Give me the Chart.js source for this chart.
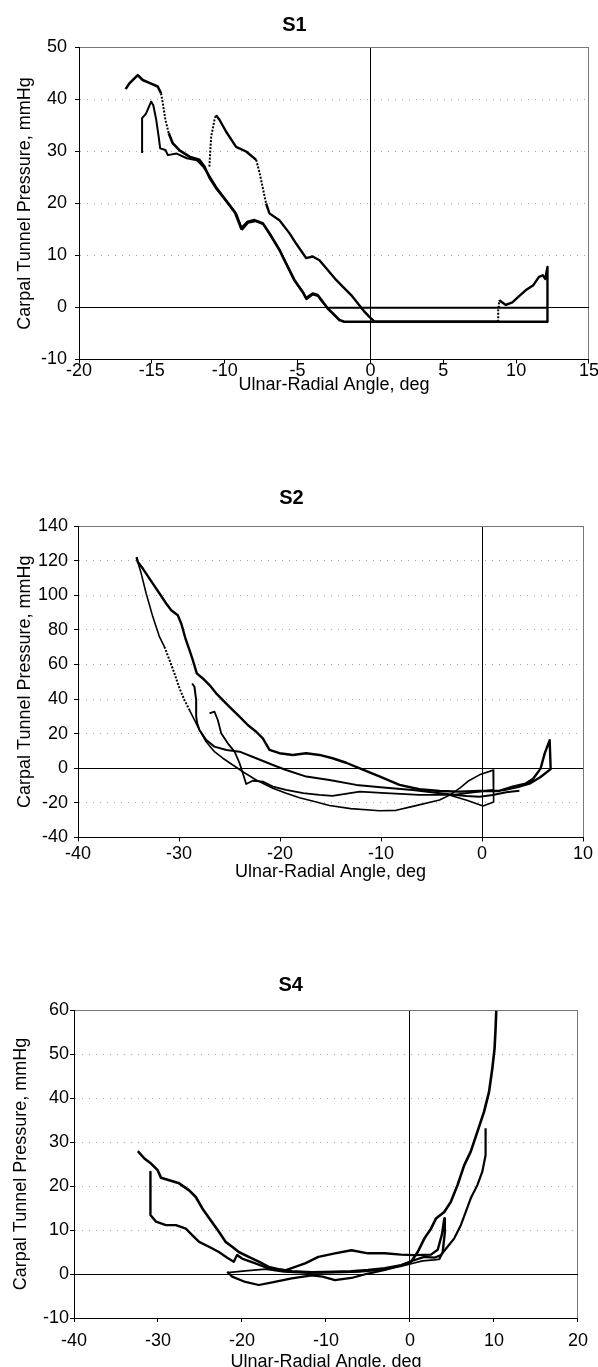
<!DOCTYPE html>
<html>
<head>
<meta charset="utf-8">
<script src="https://cdn.jsdelivr.net/npm/chart.js@4.4.1/dist/chart.umd.min.js"></script>
<style>
  html, body { margin: 0; padding: 0; background: #fff; overflow: hidden; }
  .panel { position: absolute; left: 0; width: 598px; }
</style>
</head>
<body>
<div class="panel" style="top:0;height:400px"><canvas id="chartS1"></canvas></div>
<div class="panel" style="top:440px;height:460px"><canvas id="chartS2"></canvas></div>
<div class="panel" style="top:900px;height:480px"><canvas id="chartS4"></canvas></div>
<script>
// S1 traces (angle deg, pressure mmHg)
var s1aX = [-16.8, -16.54, -15.97, -15.63, -15.17, -14.6, -14.37, -14.25, -14.07, -13.84, -13.57, -13.1, -12.42, -11.74, -11.39, -11.05, -10.6, -9.9, -9.3, -8.87, -8.42, -7.96, -7.39, -6.93, -6.25, -5.79, -5.22, -4.65, -4.42, -3.96, -3.62, -3.27, -2.93, -2.59, -2.13, -1.8, 12.15];
var s1aY = [42.0, 43.1, 44.7, 43.75, 43.2, 42.5, 41.2, 39.3, 36.1, 33.5, 31.6, 30.2, 29.0, 28.4, 27.1, 25.0, 23.0, 20.5, 18.3, 15.2, 16.5, 16.8, 16.2, 14.3, 11.1, 8.5, 5.3, 3.0, 1.8, 2.7, 2.4, 1.1, -0.2, -1.1, -2.4, -2.75, -2.75];
var s1bX = [-15.67, -15.67, -15.4, -15.05, -14.9, -14.7, -14.53, -14.43, -14.07, -13.9, -13.3, -12.6, -11.9, -11.45, -11.1, -10.5, -9.8, -9.2, -8.8, -8.4, -7.9, -7.35, -6.9, -6.2, -5.75, -5.2, -4.6, -4.38, -3.95, -3.6, -3.25, -2.95, 12.15];
var s1bY = [29.7, 36.4, 37.3, 39.6, 38.9, 36.1, 32.8, 30.6, 30.3, 29.3, 29.6, 28.7, 28.3, 27.0, 25.5, 22.8, 20.2, 18.0, 15.0, 16.3, 16.6, 16.0, 14.0, 10.9, 8.3, 5.1, 2.8, 1.6, 2.5, 2.2, 0.9, -0.05, -0.05];
var s1cX = [-11.05, -11.0, -10.93, -10.7, -10.6, -10.36, -9.9, -9.22, -8.53, -7.84, -7.6, -7.5, -7.16, -6.93, -6.25, -5.56, -5.1, -4.41, -3.96, -3.5, -2.93, -2.35, -1.9, -1.32, -0.87, -0.41, -0.07, 0.3, 8.77, 8.77, 8.85, 9.03, 9.3, 9.74, 10.13, 10.65, 11.18, 11.57, 11.83, 12.0, 12.15, 12.15];
var s1cY = [27.1, 29.7, 32.8, 36.1, 37.0, 36.1, 33.8, 30.9, 30.0, 28.4, 25.8, 24.5, 20.0, 18.1, 16.8, 14.3, 12.3, 9.5, 9.8, 9.1, 7.2, 5.3, 4.0, 2.4, 0.8, -0.8, -1.8, -2.75, -2.75, -0.6, 1.4, 1.0, 0.5, 1.0, 2.0, 3.3, 4.3, 5.9, 6.2, 5.5, 7.8, -2.75];

// S2 traces
var s2dX = [-34.2, -34.08, -33.58, -32.92, -31.93, -31.27, -30.77, -30.12, -29.78, -29.36, -28.96, -28.63, -28.24, -27.64, -26.98, -26.32, -25.66, -25.0, -24.01, -23.19, -22.36, -21.7, -21.04, -20.05, -18.73, -17.41, -16.09, -14.8, -13.45, -12.1, -10.1, -8.17, -6.2, -4.2, -2.2, -0.25, 1.7, 3.05, 4.3, 5.06, 5.8, 6.2, 6.7, 6.8, 5.8, 4.7, 3.5, 2.0];
var s2dY = [122.0, 119.2, 115.4, 109.6, 101.0, 95.2, 91.3, 88.4, 83.7, 75.0, 68.3, 62.5, 54.8, 51.9, 48.1, 43.3, 39.4, 35.5, 29.8, 25.0, 21.1, 17.3, 10.6, 8.7, 7.7, 8.7, 7.7, 5.8, 3.2, 0, -4.8, -9.6, -12.1, -13.1, -13.5, -13.1, -13.1, -10.6, -8.9, -6.0, -0.2, 8.5, 16.2, -0.5, -5.0, -8.9, -10.8, -12.7];
var s2eX = [-34.08, -33.74, -33.25, -32.59, -31.93, -31.44, -30.94, -30.45, -29.95, -29.46, -28.96, -28.47, -27.97, -27.31, -26.49, -25.66, -24.67, -23.68, -22.36, -20.71, -19.39, -18.07, -16.4, -15.1, -13.0, -10.15, -8.5, -6.85, -4.2, -3.2, -2.2, -1.3, -0.25, 0.9, 1.1, 1.15, 0.1, -1.5, -3.5];
var s2eY = [119.2, 112.5, 101.0, 87.5, 75.9, 70.2, 62.5, 54.8, 46.2, 39.4, 33.6, 27.9, 22.1, 15.3, 9.6, 5.8, 1.9, -2.0, -6.75, -11.5, -14.4, -17.0, -19.5, -21.5, -23.3, -24.5, -24.3, -22.0, -18.3, -15.5, -11.5, -7.2, -3.8, -1.5, -1.0, -19.5, -21.8, -18.5, -15.0];
var s2fX = [-28.7, -28.47, -28.3, -28.3, -28.2, -27.97, -27.3, -26.5, -25.3, -24.0, -22.36, -20.7, -19.4, -17.4, -15.1, -12.45, -9.5, -6.85, -3.54, -1.56, -0.25, 1.07, 2.4, 3.7];
var s2fY = [49.0, 47.1, 39.4, 29.8, 26.0, 22.1, 16.3, 12.5, 10.6, 9.6, 5.8, 1.9, -1.0, -4.8, -6.75, -9.6, -11.2, -12.5, -14.8, -16.0, -16.4, -15.4, -13.8, -13.0];
var s2gX = [-26.98, -26.49, -26.16, -25.82, -25.17, -24.5, -24.0, -23.68, -23.35, -22.7, -21.7, -20.7, -19.4, -17.7, -16.1, -14.8, -12.1, -9.5, -6.2, -2.9, -0.25, 1.07];
var s2gY = [31.7, 32.7, 27.9, 20.2, 14.4, 9.6, 2.9, -2.9, -9.1, -7.2, -7.7, -10.6, -12.5, -14.4, -15.4, -16.0, -13.5, -14.4, -15.4, -15.4, -13.5, -12.5];

// S4 traces
var s4pX = [-32.4, -31.62, -30.83, -30.04, -29.65, -28.66, -27.48, -26.29, -25.5, -24.72, -23.73, -22.75, -21.95, -21.17, -20.38, -19.2, -18.0, -16.83, -15.64, -14.07, -11.7, -9.0, -7.0, -5.0, -3.0, -1.05, 0.13, 0.92, 1.72, 2.5, 3.09, 4.08, 4.86, 5.66, 6.45, 7.23, 8.02, 8.82, 9.41, 9.8, 10.07, 10.19, 10.27];
var s4pY = [27.9, 26.25, 25.1, 23.6, 21.9, 21.3, 20.6, 19.0, 17.5, 14.9, 12.2, 9.6, 7.3, 6.2, 5.0, 3.9, 2.8, 1.6, 1.1, 0.6, 0.4, 0.5, 0.6, 0.9, 1.3, 2.0, 2.8, 5.0, 8.1, 10.3, 12.6, 14.1, 16.4, 20.2, 24.7, 27.8, 32.3, 36.9, 41.4, 46.7, 51.3, 55.8, 59.8];
var s4qX = [-30.9, -30.9, -30.24, -29.05, -27.87, -26.68, -25.9, -25.1, -23.93, -22.75, -21.76, -20.98, -20.58, -19.99, -18.4, -16.83, -14.85, -13.67, -12.49, -10.9, -8.94, -6.97, -5.0, -3.02, -1.05, 0.53, 2.5, 3.3, 3.8, 4.08, 4.15, 3.9, 3.5];
var s4qY = [23.2, 13.4, 11.9, 11.1, 11.1, 10.3, 8.8, 7.3, 6.2, 5.0, 3.7, 2.8, 4.3, 3.5, 2.4, 1.25, 0.8, 1.6, 2.4, 3.9, 4.7, 5.4, 4.7, 4.7, 4.4, 4.3, 4.4, 5.5, 9.0, 12.6, 9.5, 5.0, 3.5];
var s4rX = [-21.76, -21.17, -19.6, -18.0, -16.4, -14.07, -11.7, -10.4, -8.94, -6.97, -5.0, -3.0, -1.05, 0.13, 1.7, 2.9, 3.68, 4.47, 5.27, 6.05, 6.64, 7.23, 8.02, 8.6, 9.0, 9.0];
var s4rY = [0.5, -0.6, -1.8, -2.5, -1.9, -1.0, -0.3, -0.6, -1.4, -0.9, 0.1, 0.9, 2.0, 2.9, 3.9, 3.7, 4.3, 6.2, 8.1, 11.1, 14.1, 17.2, 20.2, 23.2, 27.0, 33.1];
var s4tX = [-21.7, -19.6, -17.2, -15.0, -12.0, -9.0, -6.0, -3.0, -1.0, 0.5, 1.5, 2.9, 3.6];
var s4tY = [0.3, 0.7, 1.1, 0.5, 0.2, 0.3, 0.5, 1.0, 1.8, 2.5, 3.0, 3.2, 3.4];

Chart.defaults.font.family = '"Liberation Sans", Arial, Helvetica, sans-serif';
Chart.defaults.color = '#000';

function pts(xs, ys) {
  return xs.map(function (x, i) { return { x: x, y: ys[i] }; });
}

// true when segment starting at point i lies in one of the sparse (dotted) stretches
function inRanges(i, ranges) {
  for (var k = 0; k < ranges.length; k++) {
    if (i >= ranges[k][0] && i <= ranges[k][1]) return true;
  }
  return false;
}

function buildChart(id, cfg) {
  var datasets = cfg.series.map(function (s) {
    var sparse = s[3] || [];
    return {
      data: pts(s[0], s[1]),
      showLine: true,
      borderColor: '#000',
      backgroundColor: '#000',
      borderWidth: s[2],
      pointRadius: 0,
      pointHoverRadius: 0,
      tension: 0,
      fill: false,
      borderJoinStyle: 'round',
      borderCapStyle: 'butt',
      segment: {
        borderDash: function (ctx) { return inRanges(ctx.p0DataIndex, sparse) ? [2, 1.5] : undefined; },
        borderWidth: function (ctx) { return inRanges(ctx.p0DataIndex, sparse) ? 2 : undefined; }
      }
    };
  });

  return new Chart(document.getElementById(id), {
    type: 'scatter',
    data: { datasets: datasets },
    options: {
      responsive: true,
      maintainAspectRatio: false,
      animation: false,
      events: [],
      layout: { padding: { left: 0, right: cfg.padRight, top: 0, bottom: 0 } },
      plugins: {
        legend: { display: false },
        tooltip: { enabled: false },
        title: {
          display: true,
          text: cfg.title,
          color: '#000',
          font: { size: 20, weight: 'bold' },
          padding: { top: cfg.titleTop, bottom: cfg.titleBottom }
        }
      },
      scales: {
        x: {
          type: 'linear',
          min: cfg.xMin,
          max: cfg.xMax,
          afterFit: function (scale) { scale.height = cfg.xAxisHeight; },
          ticks: { stepSize: cfg.xStep, padding: cfg.xTickPad, color: '#000', font: { size: 18, lineHeight: 1 } },
          grid: {
            color: function (ctx) {
              if (!ctx.tick) return 'rgba(0,0,0,0)';
              if (ctx.tick.value === 0) return '#000';
              if (ctx.tick.value === cfg.xMax) return '#777';
              return 'rgba(0,0,0,0)';
            },
            lineWidth: 1,
            tickLength: 4,
            tickColor: '#000'
          },
          border: { display: true, color: '#000', width: 1 },
          title: {
            display: true,
            text: 'Ulnar-Radial Angle, deg',
            color: '#000',
            font: { size: 18 },
            padding: { top: 0, bottom: cfg.xTitlePad }
          }
        },
        y: {
          type: 'linear',
          min: cfg.yMin,
          max: cfg.yMax,
          afterFit: function (scale) { scale.width = cfg.yAxisWidth; },
          ticks: { stepSize: cfg.yStep, padding: cfg.yTickPad, color: '#000', font: { size: 18, lineHeight: 1 } },
          grid: {
            color: function (ctx) {
              if (!ctx.tick) return 'rgba(0,0,0,0)';
              var v = ctx.tick.value;
              if (v === 0) return '#000';
              if (v === cfg.yMax) return '#777';
              if (v === cfg.yMin) return 'rgba(0,0,0,0)';
              return '#a8a8a8';
            },
            lineWidth: 1,
            tickLength: 4,
            tickColor: '#000'
          },
          border: {
            display: true,
            color: '#000',
            width: 1,
            dash: function (ctx) {
              if (!ctx.tick) return [];
              var v = ctx.tick.value;
              return (v === 0 || v === cfg.yMax) ? [] : [1, 6];
            }
          },
          title: {
            display: true,
            text: 'Carpal Tunnel Pressure, mmHg',
            color: '#000',
            font: { size: 18 },
            padding: { top: cfg.yTitlePad, bottom: 0 }
          }
        }
      }
    }
  });
}

buildChart('chartS1', {
  title: 'S1', titleTop: 13, titleBottom: 10.5,
  xMin: -20, xMax: 15, xStep: 5, yMin: -10, yMax: 50, yStep: 10,
  padRight: 9, yAxisWidth: 79, xAxisHeight: 40.5,
  xTickPad: -1, xTitlePad: 4, yTickPad: 8, yTitlePad: 14,
  series: [[s1aX, s1aY, 2.6, [[6, 8]]], [s1bX, s1bY, 2.0], [s1cX, s1cY, 2.4, [[0, 3], [9, 11], [28, 29]]]]
});

buildChart('chartS2', {
  title: 'S2', titleTop: 46.5, titleBottom: 15.5,
  xMin: -40, xMax: 10, xStep: 10, yMin: -40, yMax: 140, yStep: 20,
  padRight: 15, yAxisWidth: 78, xAxisHeight: 62.5,
  xTickPad: 3.5, xTitlePad: 17.5, yTickPad: 6, yTitlePad: 14,
  series: [[s2dX, s2dY, 2.4], [s2eX, s2eY, 1.6, [[5, 9]]], [s2fX, s2fY, 2.0], [s2gX, s2gY, 1.8]]
});

buildChart('chartS4', {
  title: 'S4', titleTop: 73, titleBottom: 13,
  xMin: -40, xMax: 20, xStep: 10, yMin: -10, yMax: 60, yStep: 10,
  padRight: 16.5, yAxisWidth: 74, xAxisHeight: 62,
  xTickPad: 10, xTitlePad: 7, yTickPad: 1, yTitlePad: 10,
  series: [[s4pX, s4pY, 2.6], [s4qX, s4qY, 2.4], [s4rX, s4rY, 2.2], [s4tX, s4tY, 1.8]]
});
</script>
</body>
</html>
